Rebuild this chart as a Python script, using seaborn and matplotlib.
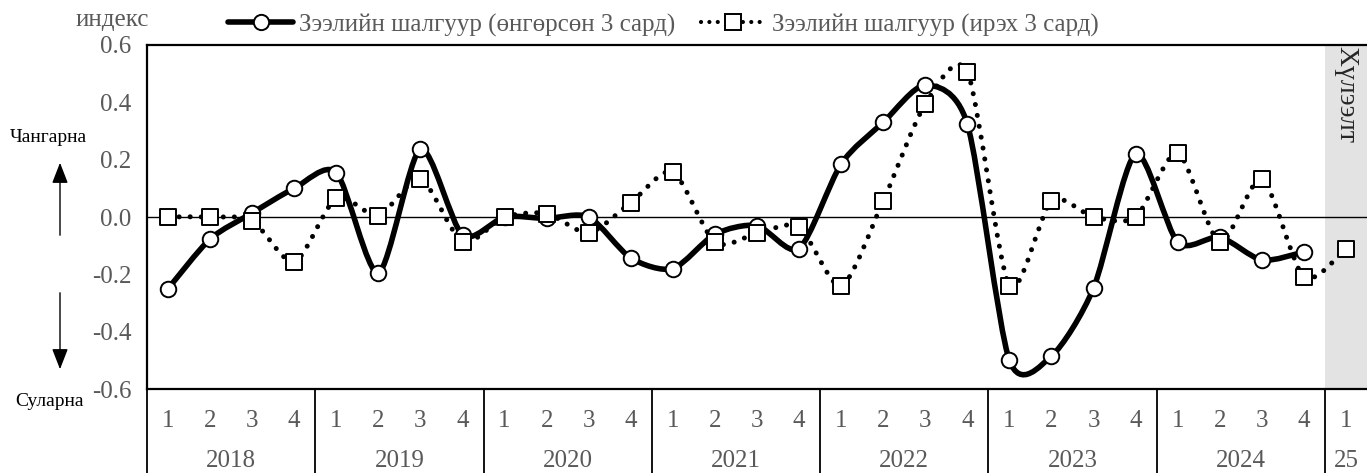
import numpy as np
import pandas as pd
import matplotlib
matplotlib.use("Agg")
import matplotlib.pyplot as plt
import seaborn as sns
from matplotlib.path import Path
from matplotlib.patches import PathPatch, FancyArrowPatch
from matplotlib.lines import Line2D

# === DATOS ===
years = ["2018", "2019", "2020", "2021", "2022", "2023", "2024", "25"]
quarters = ["1", "2", "3", "4"] * 7 + ["1"]
past_3m = [-0.25, -0.077, 0.014, 0.10,
           0.155, -0.195, 0.237, -0.063,
           0.0, -0.005, 0.0, -0.143,
           -0.18, -0.06, -0.03, -0.11,
           0.185, 0.33, 0.46, 0.324,
           -0.50, -0.485, -0.248, 0.22,
           -0.088, -0.07, -0.15, -0.122]
next_3m = [0.0, 0.0, -0.013, -0.157,
           0.066, 0.005, 0.133, -0.087,
           0.0, 0.012, -0.055, 0.05,
           0.157, -0.088, -0.057, -0.035,
           -0.24, 0.056, 0.394, 0.506,
           -0.24, 0.056, 0.0, 0.0,
           0.223, -0.088, 0.133, -0.21,
           -0.11]
label_past = "Зээлийн шалгуур (өнгөрсөн 3 сард)"
label_next = "Зээлийн шалгуур (ирэх 3 сард)"

df_past = pd.DataFrame({"t": np.arange(len(past_3m)), "valor": past_3m})
df_next = pd.DataFrame({"t": np.arange(len(next_3m)), "valor": next_3m})

# === CONFIGURACION ===
sns.set_theme(style="white")
plt.rcParams["font.family"] = ["Liberation Serif", "DejaVu Serif"]
plt.rcParams["axes.unicode_minus"] = False
gris = "#595959"
fs = 18


def curva_suave(x, y, k=0.13):
    # linea suavizada tipo Excel (Bezier cubica)
    pts = np.column_stack([x, y]).astype(float)
    n = len(pts)
    verts = [pts[0]]
    codes = [Path.MOVETO]
    for i in range(n - 1):
        p0 = pts[max(i - 1, 0)]
        p1 = pts[i]
        p2 = pts[i + 1]
        p3 = pts[min(i + 2, n - 1)]
        verts += [p1 + (p2 - p0) * k, p2 - (p3 - p1) * k, p2]
        codes += [Path.CURVE4] * 3
    return Path(verts, codes)


W, H = 1367, 473
fig = plt.figure(figsize=(W / 100, H / 100), dpi=100)
ax = fig.add_axes([147 / W, 1 - 389 / H, (W - 147) / W, 344 / H])

n = len(quarters)
ax.set_xlim(-0.5, n - 0.5)
ax.set_ylim(-0.6, 0.6)

# banda de pronostico
ax.axvspan(n - 1.5, n - 0.5, color="#e3e3e3", zorder=0, lw=0)
ax.text(n - 1, 0.595, "Хүлээлт", rotation=270, ha="center", va="top",
        fontsize=20, color="#262626")
ax.axhline(0, color="black", lw=1, zorder=1)

# serie pasada
ax.add_patch(PathPatch(curva_suave(df_past["t"], df_past["valor"]), fill=False,
                       edgecolor="black", lw=4, zorder=2, capstyle="round"))
sns.scatterplot(data=df_past, x="t", y="valor", marker="o", s=125, color="white",
                edgecolor="black", linewidth=1.4, zorder=3, ax=ax, legend=False)

# serie siguiente
ax.add_patch(PathPatch(curva_suave(df_next["t"], df_next["valor"]), fill=False,
                       edgecolor="black", lw=3.6, linestyle=(0, (0.01, 2.2)),
                       capstyle="round", zorder=4))
sns.scatterplot(data=df_next, x="t", y="valor", marker="s", s=125, color="white",
                edgecolor="black", linewidth=1.4, zorder=5, ax=ax, legend=False)

# ejes
for lado in ["left", "top", "bottom"]:
    ax.spines[lado].set_color("black")
    ax.spines[lado].set_linewidth(1.6)
ax.spines["right"].set_visible(False)

yticks = np.round(np.arange(-0.6, 0.61, 0.2), 1)
ax.set_yticks(yticks)
ax.set_yticklabels([f"{v:.1f}" for v in yticks], fontsize=fs, color=gris)
ax.tick_params(axis="y", direction="inout", length=10, width=1.2, color="black", pad=6)

ax.set_xticks(np.arange(n))
ax.set_xticklabels(quarters, fontsize=fs, color=gris)
ax.tick_params(axis="x", length=0, pad=15)
ax.set_xlabel("")
ax.set_ylabel("")

# anos y separadores
trans = ax.get_xaxis_transform()
limites = [-0.5] + [3.5 + 4 * k for k in range(7)]
for b in limites:
    ax.plot([b, b], [0, -0.26], transform=trans, clip_on=False, color="black", lw=1.3)
centros = [1.5 + 4 * k for k in range(7)] + [n - 1]
for c, yr in zip(centros, years):
    ax.text(c, -0.21, yr, transform=trans, ha="center", va="center",
            fontsize=fs, color=gris)

# textos laterales
fig.text(112 / W, 1 - 20 / H, "индекс", ha="center", va="center", fontsize=fs, color=gris)
fig.text(48 / W, 1 - 138 / H, "Чангарна", ha="center", va="center", fontsize=14, color="black")
fig.text(50 / W, 1 - 402 / H, "Суларна", ha="center", va="center", fontsize=14, color="black")
for y0, y1 in [(238, 160), (290, 372)]:
    fig.patches.append(FancyArrowPatch(
        (60 / W, 1 - y0 / H), (60 / W, 1 - y1 / H), transform=fig.transFigure,
        arrowstyle="-|>,head_length=0.9,head_width=0.35", mutation_scale=14,
        color="black", lw=1))

# leyenda
handles = [
    Line2D([], [], color="black", lw=4, marker="o", ms=11, mfc="white", mec="black", mew=1.4),
    Line2D([], [], color="black", lw=3, linestyle=(0, (0.01, 2.0)), dash_capstyle="round",
           marker="s", ms=11, mfc="white", mec="black", mew=1.4),
]
leg = fig.legend(handles, [label_past, label_next], loc="center left",
                 bbox_to_anchor=(228 / W, 1 - 25 / H), ncol=2, frameon=False,
                 fontsize=fs, handlelength=2.6, handletextpad=0.25, columnspacing=1.0,
                 borderaxespad=0, borderpad=0)
for txt in leg.get_texts():
    txt.set_color(gris)

fig.savefig("out.png", dpi=100)
